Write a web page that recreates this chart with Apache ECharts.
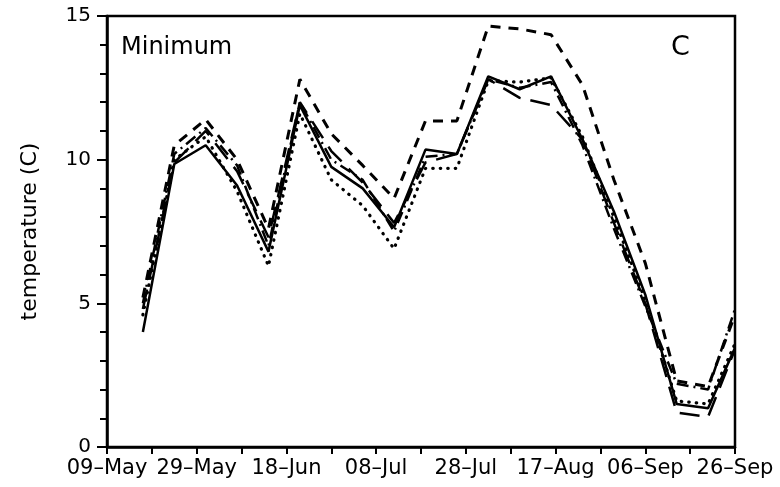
<!DOCTYPE html>
<html>
<head>
<meta charset="utf-8">
<script src="https://cdn.jsdelivr.net/npm/echarts@6/dist/echarts.min.js"></script>
<style>
  html, body { margin: 0; padding: 0; background: #fff; }
  #chart { width: 780px; height: 487px; }
</style>
</head>
<body>
<div id="chart"></div>
<script>
// Sample days, counted from 09-May (weekly records; the last one closes the season)
const sampleDays = [8, 15, 22, 29, 36, 43, 50, 57, 64, 71, 78, 85, 92, 99, 106, 113, 120, 127, 134, 140];

// Minimum temperature (C) for each record
const solidSeries    = [4.0, 9.85, 10.5, 9.1, 6.8, 11.9, 9.75, 9.0, 7.65, 10.35, 10.2, 12.9, 12.45, 12.9, 10.7, 8.2, 5.3, 1.5, 1.35, 3.45];
const dottedSeries   = [4.6, 10.0, 10.8, 8.9, 6.3, 11.6, 9.3, 8.4, 6.9, 9.7, 9.7, 12.75, 12.7, 12.85, 10.8, 8.0, 5.1, 1.6, 1.5, 3.6];
const dashedSeries   = [5.2, 10.5, 11.4, 10.0, 7.6, 12.8, 10.9, 9.8, 8.65, 11.35, 11.35, 14.65, 14.55, 14.35, 12.6, 9.3, 6.4, 2.3, 2.1, 4.6];
const longDashSeries = [4.8, 9.9, 11.0, 9.6, 7.3, 12.0, 10.3, 9.2, 7.8, 9.9, 10.2, 12.8, 12.15, 11.9, 10.7, 7.8, 5.0, 1.2, 1.05, 3.4];
const dashDotSeries  = [5.0, 10.2, 11.1, 9.8, 7.0, 12.0, 10.0, 9.3, 7.5, 10.1, 10.2, 12.8, 12.5, 12.7, 10.5, 7.6, 4.9, 2.2, 2.0, 4.8];

// Date labels on the x axis, one every 20 days
const tickLabels = ['09\u2013May', '29\u2013May', '18\u2013Jun', '08\u2013Jul', '28\u2013Jul', '17\u2013Aug', '06\u2013Sep', '26\u2013Sep'];

const FONT = 'DejaVu Sans';

function pairs(values) {
  return values.map((v, i) => [sampleDays[i], v]);
}

function lineSeries(name, values, type, width, cap) {
  return {
    name: name,
    type: 'line',
    data: pairs(values),
    showSymbol: false,
    symbol: 'none',
    clip: true,
    lineStyle: { color: '#000', width: width, type: type, cap: cap || 'butt' },
    emphasis: { disabled: true },
    animation: false
  };
}

const chart = echarts.init(document.getElementById('chart'), null, { renderer: 'canvas' });

chart.setOption({
  animation: false,
  backgroundColor: '#fff',
  grid: {
    left: 107, right: 45, top: 16, bottom: 40,
    show: true, borderColor: '#000', borderWidth: 2.5, backgroundColor: 'transparent'
  },
  xAxis: {
    type: 'value',
    min: 0, max: 140, interval: 10,
    axisLine: { show: true, lineStyle: { color: '#000', width: 2.5 } },
    axisTick: { show: true, inside: false, length: 7, lineStyle: { color: '#000', width: 2 } },
    axisLabel: {
      margin: 11, color: '#000', fontFamily: FONT, fontSize: 21,
      showMinLabel: true, showMaxLabel: true,
      formatter: v => (v % 20 === 0 ? tickLabels[v / 20] : '')
    },
    splitLine: { show: false }
  },
  yAxis: {
    type: 'value',
    min: 0, max: 15, interval: 5,
    name: 'temperature (C)',
    nameLocation: 'middle',
    nameRotate: 90,
    nameGap: 66,
    nameTextStyle: { color: '#000', fontFamily: FONT, fontSize: 22 },
    axisLine: { show: true, lineStyle: { color: '#000', width: 2.5 } },
    axisTick: { show: true, inside: false, length: 10, lineStyle: { color: '#000', width: 2 } },
    minorTick: { show: true, splitNumber: 5, length: 7, lineStyle: { color: '#000', width: 2 } },
    axisLabel: { margin: 16, color: '#000', fontFamily: FONT, fontSize: 20 },
    splitLine: { show: false },
    minorSplitLine: { show: false }
  },
  graphic: [
    {
      type: 'text', left: 121, top: 36,
      style: { text: 'Minimum', font: '24px "DejaVu Sans"', fill: '#000' }
    },
    {
      type: 'text', left: 671, top: 34,
      style: { text: 'C', font: '27px "DejaVu Sans"', fill: '#000' }
    }
  ],
  series: [
    lineSeries('solid', solidSeries, 'solid', 2.5),
    lineSeries('dotted', dottedSeries, [0.5, 7], 3.2, 'round'),
    lineSeries('dashed', dashedSeries, [10, 8], 3),
    lineSeries('long dash', longDashSeries, [20, 10], 2.5),
    lineSeries('dash dot', dashDotSeries, [12, 5, 2, 5], 2.5)
  ]
});
</script>
</body>
</html>
